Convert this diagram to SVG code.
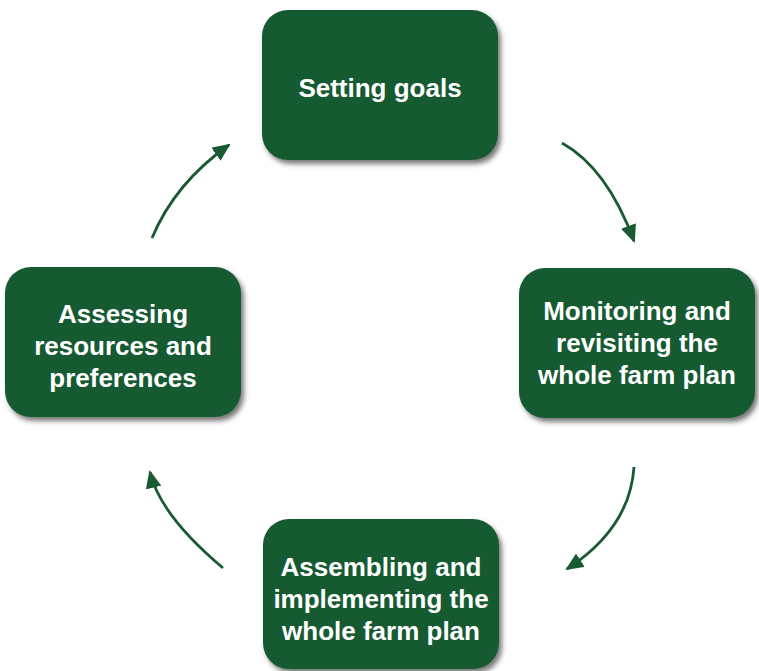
<svg xmlns="http://www.w3.org/2000/svg" width="759" height="671" viewBox="0 0 759 671">
  <defs>
    <filter id="shadow" x="-10%" y="-10%" width="125%" height="130%">
      <feDropShadow dx="3" dy="4" stdDeviation="2.5" flood-color="#333333" flood-opacity="0.65"/>
    </filter>
    <marker id="arrow" viewBox="0 0 18 16" refX="16" refY="8" markerWidth="18" markerHeight="16" markerUnits="userSpaceOnUse" orient="auto">
      <path d="M0,0 L18,8 L0,16 Z" fill="#195a32"/>
    </marker>
    <style>
      .box { fill: #195a32; filter: url(#shadow); }
      .label { font-family: "Liberation Sans", Arial, sans-serif; font-weight: bold; font-size: 26px; fill: #ffffff; text-anchor: middle; }
      .conn { fill: none; stroke: #195a32; stroke-width: 2.8; marker-end: url(#arrow); }
    </style>
  </defs>

  <g id="connectors">
    <path class="conn" d="M152,238 Q175,183 229,145"/>
    <path class="conn" d="M562,143 Q607,168 634,241"/>
    <path class="conn" d="M634,467 Q630,528 567,569"/>
    <path class="conn" d="M223,568 Q160,515 150,472"/>
  </g>

  <g id="setting-goals">
    <rect class="box" x="262" y="10" width="236" height="150" rx="26"/>
    <text class="label" x="380" y="97">Setting goals</text>
  </g>

  <g id="monitoring">
    <rect class="box" x="519" y="268" width="236" height="150" rx="26"/>
    <text class="label" x="637" y="320">Monitoring and</text>
    <text class="label" x="637" y="352">revisiting the</text>
    <text class="label" x="637" y="384">whole farm plan</text>
  </g>

  <g id="assembling">
    <rect class="box" x="263" y="519" width="236" height="150" rx="26"/>
    <text class="label" x="381" y="576">Assembling and</text>
    <text class="label" x="381" y="608">implementing the</text>
    <text class="label" x="381" y="640">whole farm plan</text>
  </g>

  <g id="assessing">
    <rect class="box" x="5" y="267" width="236" height="150" rx="26"/>
    <text class="label" x="123" y="323">Assessing</text>
    <text class="label" x="123" y="355">resources and</text>
    <text class="label" x="123" y="387">preferences</text>
  </g>
</svg>
